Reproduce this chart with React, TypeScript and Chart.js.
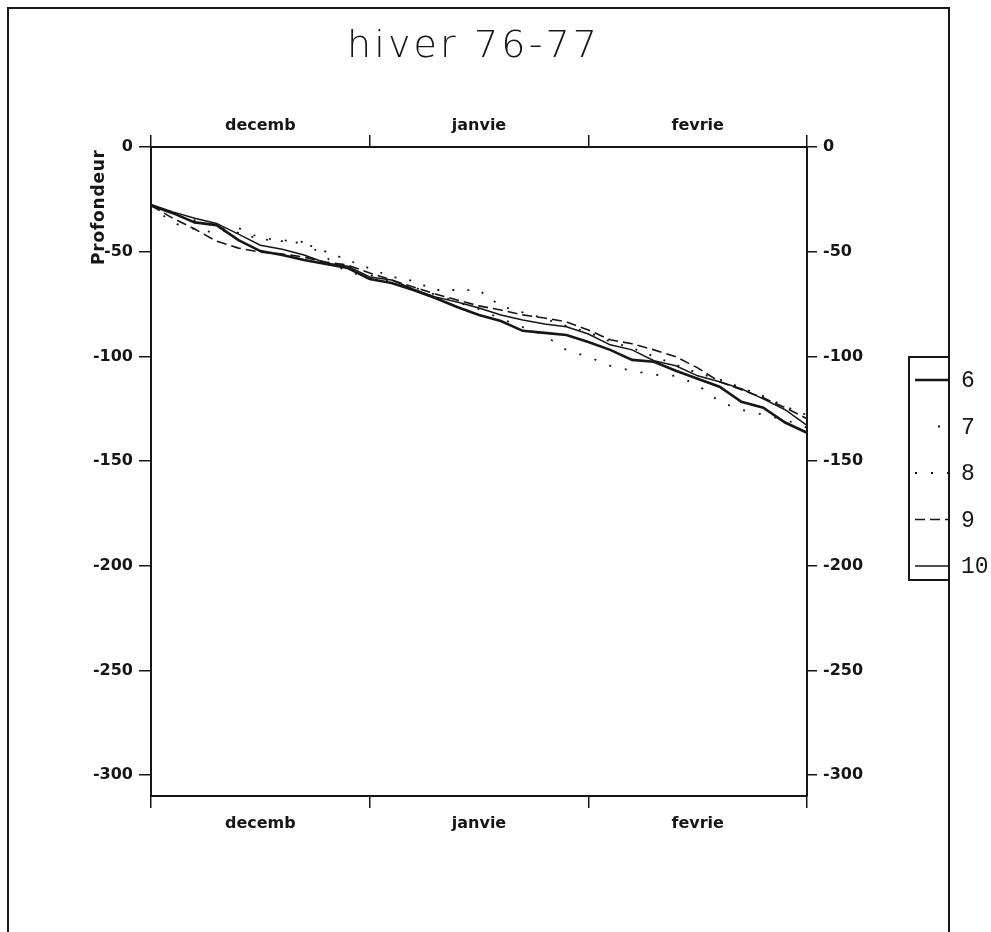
import React, { useEffect, useRef } from 'react';
import { Chart, registerables } from 'chart.js';

Chart.register(...registerables);

// ---- data ----
const titleText = 'hiver 76-77';
const yTitle = 'Profondeur';
const months = ['decemb', 'janvie', 'fevrie'];
const yTicks = [0, -50, -100, -150, -200, -250, -300];
const days = [0, 3, 6, 9, 12, 15, 18, 21, 24, 27, 30, 33, 36, 39, 42, 45, 48, 51, 54, 57, 60, 63, 66, 69, 72, 75, 78, 81, 84, 87, 90];
const legendLabels = ['6', '7', '8', '9', '10'];

const s6 = [-27.9, -31.6, -36, -37.3, -44.5, -49.7, -51.6, -54.0, -55.9, -57.8, -63.1, -65.0, -68.3, -72.1, -76.4, -80.2, -83.1, -87.8, -88.8, -89.8, -93.1, -96.9, -101.7, -102.6, -106.9, -110.7, -114.5, -121.7, -124.5, -131.6, -136.5];
const s7 = [-28, -32, -35, -38, -41, -44, -45, -46, -50, -54, -58, -62, -64, -68.3, -68.3, -68.5, -76, -79, -82, -85.5, -88.5, -93, -96, -100, -104, -108, -111, -115, -119, -124, -128];
const s8 = [-28, -36.4, -39.2, -41.1, -38.7, -43.5, -44.5, -45.4, -52.6, -60.2, -61.1, -64.5, -67, -70.5, -74, -77.5, -82, -86, -90, -97, -100.2, -104.5, -106.9, -108.8, -109.3, -113.6, -121.7, -125.5, -127.9, -130.3, -134.1];
const s9 = [-28, -34, -39.2, -45, -48.3, -50.2, -51.1, -52.6, -55, -56.4, -60.2, -63.5, -66.9, -70.2, -73.1, -75.9, -77.9, -80.2, -81.7, -83.5, -87.4, -92.1, -94, -96.9, -100.2, -105.5, -112.1, -116, -119.8, -124.5, -129.8];
const s10 = [-27.5, -31, -34, -36.5, -41.6, -46.9, -48.8, -51.6, -55.4, -56.9, -62.1, -63.5, -67.9, -71.6, -74.0, -76.9, -80.2, -82.6, -84.5, -85.9, -89.3, -94.5, -96.9, -102.1, -104.5, -109.3, -112.1, -115.5, -120.3, -125.5, -133];

const INK = '#161616';
const tickFont = { family: 'DejaVu Sans', size: 16, weight: 'bold' as const };

const toPts = (arr: number[]) => days.map((d, i) => ({ x: d, y: arr[i] }));

const decorPlugin = {
  id: 'decor',
  afterDraw(chart: any) {
    const ctx: CanvasRenderingContext2D = chart.ctx;
    ctx.save();
    // outer frame
    ctx.strokeStyle = INK;
    ctx.lineWidth = 2;
    ctx.beginPath();
    ctx.moveTo(8, 932);
    ctx.lineTo(8, 8);
    ctx.lineTo(949, 8);
    ctx.lineTo(949, 932);
    ctx.stroke();

    // title
    ctx.fillStyle = INK;
    ctx.font = '200 38px "DejaVu Sans"';
    (ctx as any).letterSpacing = '0px';
    const tw = ctx.measureText(titleText).width;
    const sp = (250 - tw) / (titleText.length - 1);
    (ctx as any).letterSpacing = sp + 'px';
    ctx.textAlign = 'left';
    ctx.textBaseline = 'alphabetic';
    ctx.fillText(titleText, 347, 57);

    // y title
    ctx.font = 'bold 17px "DejaVu Sans"';
    (ctx as any).letterSpacing = '0px';
    const yw = ctx.measureText(yTitle).width;
    (ctx as any).letterSpacing = Math.max(0, (115 - yw) / (yTitle.length - 1)) + 'px';
    ctx.save();
    ctx.translate(104, 265);
    ctx.rotate(-Math.PI / 2);
    ctx.fillText(yTitle, 0, 0);
    ctx.restore();
    (ctx as any).letterSpacing = '0px';

    // legend box
    ctx.lineWidth = 2;
    ctx.strokeRect(909, 357, 40, 223);
    const ys = legendLabels.map((_, i) => 380 + i * 46.5);
    const ds = chart.data.datasets;
    legendLabels.forEach((lab, i) => {
      const y = ys[i];
      const dsi = ds[i];
      ctx.strokeStyle = INK;
      ctx.lineWidth = dsi.borderWidth;
      ctx.setLineDash(dsi.borderDash || []);
      ctx.lineCap = 'butt';
      ctx.beginPath();
      if (i === 1) {
        ctx.moveTo(938, y);
        ctx.lineTo(949, y);
      } else {
        ctx.moveTo(915, y);
        ctx.lineTo(949, y);
      }
      ctx.stroke();
      ctx.setLineDash([]);
      ctx.fillStyle = INK;
      ctx.font = '23px "Liberation Mono"';
      ctx.textAlign = 'left';
      ctx.textBaseline = 'middle';
      ctx.fillText(lab, 961, y + 1);
    });
    ctx.restore();
  },
};

export default function App() {
  const ref = useRef<HTMLCanvasElement | null>(null);

  useEffect(() => {
    if (!ref.current) return;
    const chart = new Chart(ref.current, {
      type: 'line',
      data: {
        datasets: [
          { label: legendLabels[0], data: toPts(s6), borderColor: INK, borderWidth: 2.6, xAxisID: 'x', yAxisID: 'y' },
          { label: legendLabels[1], data: toPts(s7), borderColor: INK, borderWidth: 1.8, borderDash: [2, 13], xAxisID: 'x', yAxisID: 'y' },
          { label: legendLabels[2], data: toPts(s8), borderColor: INK, borderWidth: 1.8, borderDash: [2, 14], xAxisID: 'x', yAxisID: 'y' },
          { label: legendLabels[3], data: toPts(s9), borderColor: INK, borderWidth: 1.6, borderDash: [10, 5], xAxisID: 'x', yAxisID: 'y' },
          { label: legendLabels[4], data: toPts(s10), borderColor: INK, borderWidth: 1.5, xAxisID: 'x', yAxisID: 'y' },
        ] as any,
      },
      options: {
        animation: false,
        responsive: true,
        maintainAspectRatio: false,
        layout: { padding: 0 },
        elements: { point: { radius: 0 }, line: { tension: 0 } },
        plugins: { legend: { display: false }, title: { display: false }, tooltip: { enabled: false } },
        scales: {
          x: { type: 'linear', axis: 'x', min: 0, max: 90, display: false },
          y: {
            type: 'linear', axis: 'y', position: 'left', min: -310, max: 0,
            afterBuildTicks: (s: any) => { s.ticks = yTicks.map((v) => ({ value: v })); },
            afterFit: (s: any) => { s.width = 151; },
            grid: { drawOnChartArea: false, drawTicks: true, tickLength: 12, color: INK, lineWidth: 1.5 },
            border: { display: true, color: INK, width: 2 },
            ticks: { font: tickFont, color: INK, padding: 6, callback: (v: any) => String(v) },
          },
          y2: {
            type: 'linear', axis: 'y', position: 'right', min: -310, max: 0,
            afterBuildTicks: (s: any) => { s.ticks = yTicks.map((v) => ({ value: v })); },
            afterFit: (s: any) => { s.width = 184; },
            grid: { drawOnChartArea: false, drawTicks: true, tickLength: 10, color: INK, lineWidth: 1.5 },
            border: { display: true, color: INK, width: 2 },
            ticks: { font: tickFont, color: INK, padding: 6, callback: (v: any) => String(v) },
          },
          xb: {
            type: 'category', axis: 'x', position: 'bottom', labels: months, offset: true,
            afterFit: (s: any) => { s.height = 136; },
            grid: { offset: true, drawOnChartArea: false, drawTicks: true, tickLength: 12, color: INK, lineWidth: 1.5 },
            border: { display: true, color: INK, width: 2 },
            ticks: { font: tickFont, color: INK, padding: 6, maxRotation: 0, autoSkip: false },
          },
          xt: {
            type: 'category', axis: 'x', position: 'top', labels: months, offset: true,
            afterFit: (s: any) => { s.height = 147; },
            grid: { offset: true, drawOnChartArea: false, drawTicks: true, tickLength: 12, color: INK, lineWidth: 1.5 },
            border: { display: true, color: INK, width: 2 },
            ticks: { font: tickFont, color: INK, padding: 0, maxRotation: 0, autoSkip: false },
          },
        } as any,
      },
      plugins: [decorPlugin],
    });
    return () => chart.destroy();
  }, []);

  return (
    <div style={{ position: 'absolute', left: 0, top: 0, width: 991, height: 932, background: '#fff' }}>
      <canvas ref={ref} style={{ display: 'block' }} />
    </div>
  );
}
